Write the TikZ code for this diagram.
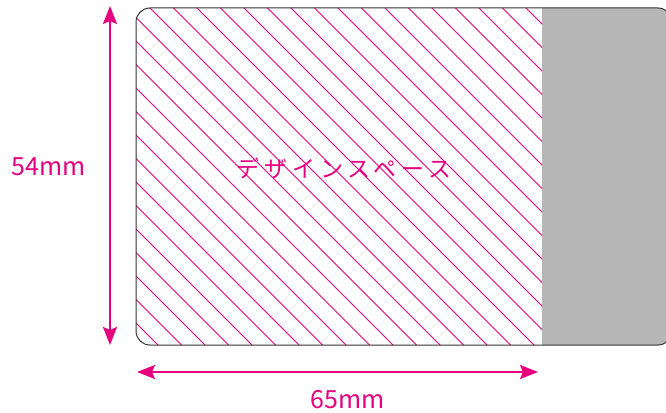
\documentclass[tikz,border=0pt]{standalone}
\usepackage{fontspec}
\setmainfont{Noto Sans CJK JP}
\usetikzlibrary{arrows.meta}
\definecolor{mag}{HTML}{E4007F}
\definecolor{cardgray}{HTML}{B5B6B5}
\definecolor{edgecol}{HTML}{333333}
\tikzset{
  dimarrow/.style={mag, line width=2pt,
    {Stealth[length=18pt,width=14pt,inset=3pt]}-{Stealth[length=18pt,width=14pt,inset=3pt]}},
  hatchline/.style={mag, line width=0.9pt},
  cardedge/.style={edgecol, line width=1pt, rounded corners=14pt},
  dimlabel/.style={text=mag, font=\fontsize{25}{25}\selectfont, inner sep=0pt},
  titlelabel/.style={text=mag, font=\fontsize{23}{23}\selectfont\addfontfeature{LetterSpace=21}, inner sep=0pt}
}
\begin{document}
\begin{tikzpicture}[x=1pt,y=-1pt]
\useasboundingbox (0,0) rectangle (666,412);
\clip (0,0) rectangle (666,412);
\begin{scope}
  \clip[rounded corners=14pt] (136,8) rectangle (672,345);
  \fill[cardgray] (542,0) rectangle (690,360);
  \clip (130,0) rectangle (542,360);
  \foreach \k in {-1,...,31}
    \draw[hatchline] ({-187+23.5*\k},0) -- ++(360,360);
\end{scope}
\draw[cardedge] (136,8) rectangle (672,345);
\node[titlelabel] (title) at (344,168) {デザインスペース};
\coordinate (vt) at (110,6);
\coordinate (vb) at (110,345);
\coordinate (hl) at (137,372);
\coordinate (hr) at (538,372);
\draw[dimarrow] (vt) -- (vb);
\draw[dimarrow] (hl) -- (hr);
\node[dimlabel] (hlabel) at (49,167) {54mm};
\node[dimlabel] (wlabel) at (348,400) {65mm};
\end{tikzpicture}
\end{document}
